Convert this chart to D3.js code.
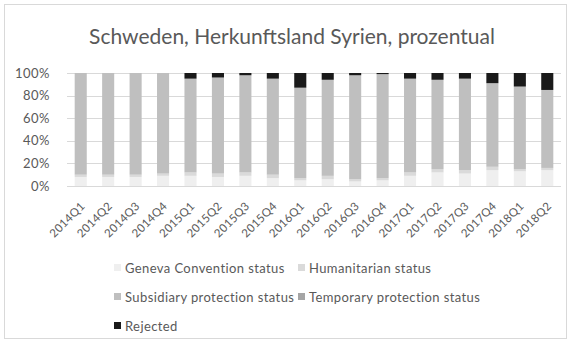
<!DOCTYPE html>
<html><head><meta charset="utf-8">
<script src="https://cdn.jsdelivr.net/npm/d3@7"></script>
<style>body{margin:0;background:#fff;}svg{display:block;font-family:Lato,"Open Sans",sans-serif;}</style>
</head><body><svg id="c" width="571" height="347"></svg>
<script>
const categories = ["2014Q1","2014Q2","2014Q3","2014Q4","2015Q1","2015Q2","2015Q3","2015Q4","2016Q1","2016Q2","2016Q3","2016Q4","2017Q1","2017Q2","2017Q3","2017Q4","2018Q1","2018Q2"];
const geneva      = [8,8,8,9, 9,8,9,7, 5,6,4,5, 9,12,11,14, 13,14];
const humanitarian= [2,2,2,2, 3,3,3,3, 2,3,2,2, 3,3,3,3, 2,2];
const subsidiary  = [90,90,90,89, 83,85,86,85, 80,85,92,92, 83,79,81,74, 73,69];
const temporary   = [0,0,0,0, 0,0,0,0, 0,0,0,0, 0,0,0,0, 0,0];
const rejected    = [0,0,0,0, 5,4,2,5, 13,6,2,1, 5,6,5,9, 12,15];
const seriesNames = ["Geneva Convention status","Humanitarian status","Subsidiary protection status","Temporary protection status","Rejected"];
const seriesColors = ["#efefef","#dadada","#bfbfbf","#a5a5a5","#1a1a1a"];
const yTicks = [0,20,40,60,80,100];
const title = "Schweden, Herkunftsland Syrien, prozentual";

const svg = d3.select("#c");
svg.append("rect").attr("x",4.5).attr("y",4.5).attr("width",562).attr("height",334).attr("fill","#fff").attr("stroke","#d9d9d9");

const rows = categories.map((c,i)=>({cat:c, g:geneva[i], h:humanitarian[i], s:subsidiary[i], t:temporary[i], r:rejected[i]}));
const keys = ["g","h","s","t","r"];
const stack = d3.stack().keys(keys)(rows);

const x = d3.scaleBand().domain(categories).range([67,561]).paddingInner(0.56).paddingOuter(0.28);
const y = d3.scaleLinear().domain([0,100]).range([186,73]);

// grid
svg.append("g").selectAll("line").data(yTicks).join("line")
  .attr("x1",67).attr("x2",561).attr("y1",d=>Math.round(y(d))+0.5).attr("y2",d=>Math.round(y(d))+0.5)
  .attr("stroke","#d9d9d9").attr("stroke-width",1);

// y axis labels
const ya = svg.append("g").attr("transform","translate(56,0)").call(d3.axisLeft(y).tickValues(yTicks).tickFormat(d=>d+"%").tickSize(0).tickPadding(6));
ya.select(".domain").remove();
ya.selectAll("text").attr("fill","#595959").attr("font-size",13).attr("letter-spacing",0.5).attr("font-family","Lato,sans-serif");

// bars
svg.append("g").selectAll("g").data(stack).join("g").attr("fill",(d,i)=>seriesColors[i])
  .selectAll("rect").data(d=>d).join("rect")
  .attr("x",d=>x(d.data.cat)).attr("width",x.bandwidth())
  .attr("y",d=>y(d[1])).attr("height",d=>y(d[0])-y(d[1]));

// x labels
const xa = svg.append("g").attr("transform","translate(0,186)").call(d3.axisBottom(x).tickSize(0).tickPadding(0));
xa.select(".domain").remove();
xa.selectAll("text").attr("fill","#595959").attr("font-size",11.5).attr("letter-spacing",0.3).attr("font-family","Lato,sans-serif")
  .attr("text-anchor","end").attr("dy","0.35em")
  .attr("transform","translate(2,18) rotate(-45)");

// title
svg.append("text").attr("x",292).attr("y",44).attr("text-anchor","middle").attr("font-size",21).attr("fill","#595959").text(title);

// legend
const legPos = [[114,268],[298,268],[114,297],[298,297],[114,326]];
const lg = svg.append("g").selectAll("g").data(seriesNames).join("g").attr("transform",(d,i)=>`translate(${legPos[i][0]},${legPos[i][1]})`);
lg.append("rect").attr("x",0).attr("y",-4).attr("width",7).attr("height",7).attr("fill",(d,i)=>seriesColors[i]);
lg.append("text").attr("x",11).attr("y",0).attr("dy","0.35em").attr("font-size",13).attr("letter-spacing",0.4).attr("fill","#595959").text(d=>d);
</script></body></html>
